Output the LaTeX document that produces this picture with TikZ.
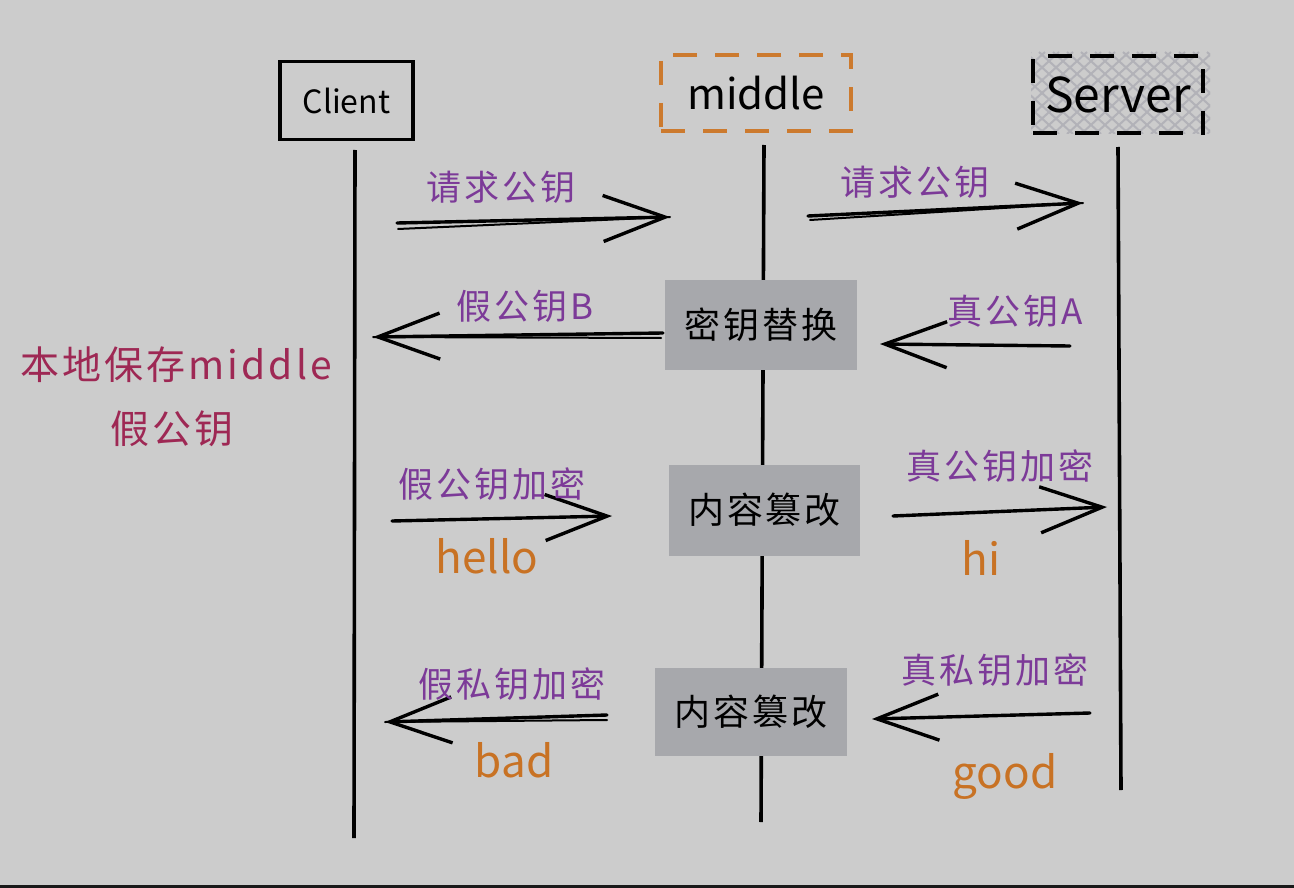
\documentclass[tikz,border=0pt]{standalone}
\usepackage{fontspec}
\setmainfont{Noto Sans}
\newfontfamily\cjk{Noto Sans CJK SC}
\newfontfamily\cjkwide[LetterSpace=8]{Noto Sans CJK SC}
\usetikzlibrary{arrows.meta}
\definecolor{bg}{RGB}{204,204,204}
\definecolor{lblpurple}{RGB}{124,58,152}
\definecolor{noteRed}{RGB}{158,40,84}
\definecolor{txtOrange}{RGB}{200,114,36}
\definecolor{boxOrange}{RGB}{204,122,46}
\definecolor{boxGray}{RGB}{167,168,172}
\definecolor{hatch}{RGB}{178,178,184}
\tikzset{
  actor/.style={draw=black, line width=3.4pt, minimum width=133pt, minimum height=78pt, inner sep=0pt, font=\cjk\fontsize{32}{38}\selectfont},
  lifeline/.style={line width=3.6pt, black},
  procbox/.style={fill=boxGray, minimum width=192pt, minimum height=90pt, inner sep=0pt, font=\cjkwide\fontsize{36}{42}\selectfont},
  msg/.style={line width=3.4pt, black, line cap=round, line join=round, -{Straight Barb[length=62pt,width=46pt,line width=3.4pt]}},
  shaft/.style={line width=2pt, black, line cap=round},
  hatchline/.style={hatch, line width=2pt},
  lbl/.style={text=lblpurple, font=\cjkwide\fontsize{35}{42}\selectfont, inner sep=0pt},
  payload/.style={text=txtOrange, font=\cjk\fontsize{44}{50}\selectfont, inner sep=0pt},
  note/.style={text=noteRed, font=\cjkwide\fontsize{39}{46}\selectfont, inner sep=0pt}
}
\begin{document}
\begin{tikzpicture}[x=1pt,y=-1pt]
\fill[bg] (0,0) rectangle (1294,888);
\useasboundingbox (0,0) rectangle (1294,888);
\fill[black!90] (0,885) rectangle (1294,888);

% actors
\node[actor] (client) at (346.5,100.5) {Client};
\begin{scope}
  \clip (1031,52) rectangle (1210,134);
  \foreach \k in {0,14,...,280} {
    \draw[hatchline] (1031+\k-90,134) -- (1031+\k,52);
    \draw[hatchline] (1031+\k-90,52) -- (1031+\k,134);
  }
\end{scope}
\node[actor, draw=boxOrange, dash pattern=on 24pt off 18pt, minimum width=190pt, minimum height=76pt, font=\cjk\fontsize{42}{48}\selectfont] (middle) at (756,93) {middle};
\node[actor, dash pattern=on 24pt off 18pt, minimum width=170pt, minimum height=77pt, font=\cjk\fontsize{48}{54}\selectfont] (server) at (1118,94.5) {Server};

% lifelines
\coordinate (clTop) at (355,150);
\coordinate (clBot) at (354,838);
\coordinate (mdTop) at (764,145);
\coordinate (mdBot) at (761,822);
\coordinate (svTop) at (1118,147);
\coordinate (svBot) at (1121,790);
\draw[lifeline] (clTop) -- (clBot);
\draw[lifeline] (mdTop) -- (mdBot);
\draw[lifeline] (svTop) -- (svBot);

% processing boxes
\node[procbox] (swap) at (761,324.5) {密钥替换};
\node[procbox, minimum width=191pt, minimum height=91pt] (tamperA) at (764.5,510) {内容篡改};
\node[procbox, minimum height=88pt] (tamperB) at (751,712) {内容篡改};

% message 1: client -> middle
\coordinate (m1s) at (397,223);
\coordinate (m1s2) at (398,229);
\coordinate (m1e) at (670,217);
\draw[shaft] (m1s2) -- (m1e);
\draw[msg] (m1s) -- (m1e);
\node[lbl] (l1) at (501,187) {请求公钥};

% message 2: middle -> server
\coordinate (m2s) at (808,216);
\coordinate (m2s2) at (810,220);
\coordinate (m2e) at (1083,203);
\draw[shaft] (m2s2) -- (m2e);
\draw[msg] (m2s) -- (m2e);
\node[lbl] (l2) at (915,182) {请求公钥};

% message 3: swap -> client
\coordinate (m3s) at (663,333);
\coordinate (m3s2) at (661,338);
\coordinate (m3e) at (373,337);
\draw[shaft] (m3s2) -- (m3e);
\draw[msg] (m3s) -- (m3e);
\node[lbl] (l3) at (525,306) {假公钥B};

% message 4: server -> swap
\coordinate (m4s) at (1070,346);
\coordinate (m4e) at (880,344);
\draw[msg] (m4s) -- (m4e);
\node[lbl] (l4) at (1015,311) {真公钥A};

% note
\node[note] (note1) at (176,365) {本地保存middle};
\node[note] (note2) at (172,429) {假公钥};

% message 5: client -> tamperA
\coordinate (m5s) at (392,521);
\coordinate (m5e) at (612,516);
\draw[msg] (m5s) -- (m5e);
\node[lbl] (l5) at (492,484) {假公钥加密};
\node[payload] (hello) at (487,556) {hello};

% message 6: tamperA -> server
\coordinate (m6s) at (893,516);
\coordinate (m6e) at (1107,507);
\draw[msg] (m6s) -- (m6e);
\node[lbl] (l6) at (1000,466) {真公钥加密};
\node[payload] (hi) at (981,558) {hi};

% message 7: tamperB -> client
\coordinate (m7s) at (607,715);
\coordinate (m7s2) at (607,720);
\coordinate (m7e) at (385,722);
\draw[shaft] (m7s2) -- (m7e);
\draw[msg] (m7s) -- (m7e);
\node[lbl] (l7) at (512,684) {假私钥加密};
\node[payload] (bad) at (514,760) {bad};

% message 8: server -> tamperB
\coordinate (m8s) at (1090,713);
\coordinate (m8e) at (872,719);
\draw[msg] (m8s) -- (m8e);
\node[lbl] (l8) at (995,670) {真私钥加密};
\node[payload] (good) at (1005,776) {good};
\end{tikzpicture}
\end{document}
